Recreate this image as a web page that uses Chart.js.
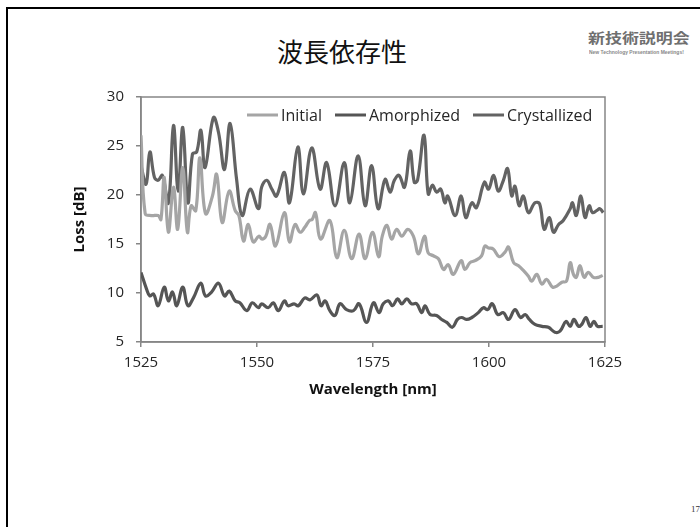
<!DOCTYPE html>
<html>
<head>
<meta charset="utf-8">
<script src="https://cdn.jsdelivr.net/npm/chart.js@4"></script>
<style>
  html, body { margin: 0; padding: 0; background: #fff; }
  body { width: 700px; height: 527px; position: relative; overflow: hidden; }
  #slide { position: absolute; left: 6px; top: 7px; width: 800px; height: 600px;
           border-left: 2px solid #000; border-top: 2px solid #000; }
  #title { position: absolute; left: 277px; top: 38px; font: 26px/1 "Noto Sans CJK JP", sans-serif; color: #111; white-space: nowrap; }
  #logo { position: absolute; left: 588px; top: 30px; font: bold 14px/1 "Noto Sans CJK JP", sans-serif; color: #6f6f6f;
          transform: scaleX(1.21); transform-origin: left top; white-space: nowrap; }
  #logo-sub { position: absolute; left: 589px; top: 50px; font: bold 9px/1 "Liberation Sans", sans-serif; color: #888;
              transform: scale(0.55, 0.5); transform-origin: left top; white-space: nowrap; }
  #page { position: absolute; left: 691px; top: 505px; font: 9px/1 "Liberation Serif", serif; color: #333; }
  #wrap { position: absolute; left: 0; top: 0; width: 700px; height: 527px; }
</style>
</head>
<body>
<div id="slide"></div>
<div id="title">波長依存性</div>
<div id="logo">新技術説明会</div>
<div id="logo-sub">New Technology Presentation Meetings!</div>
<div id="page">17</div>
<div id="wrap"><canvas id="lossChart" width="700" height="527"></canvas></div>

<script>
// --- Data ---
const seriesNames = ['Initial', 'Amorphized', 'Crystallized'];
const xTicks = [1525, 1550, 1575, 1600, 1625];
const yTicks = [5, 10, 15, 20, 25, 30];

const initialNm = [
    1525.0, 1525.9, 1527.3, 1528.7, 1529.3, 1530.0, 1530.9, 1532.0, 1532.9, 1534.0,
    1535.0, 1535.8, 1536.8, 1537.7, 1538.9, 1540.4, 1541.3, 1542.5, 1544.0, 1545.3,
    1546.1, 1547.1, 1548.1, 1549.2, 1550.4, 1551.1, 1551.9, 1552.8, 1554.0, 1555.9,
    1557.0, 1558.2, 1559.3, 1560.3, 1561.3, 1561.9, 1562.6, 1563.7, 1565.7, 1567.2,
    1568.8, 1570.4, 1572.0, 1573.3, 1574.9, 1576.2, 1577.0, 1578.0, 1579.0, 1580.1,
    1581.2, 1582.5, 1583.7, 1584.8, 1586.1, 1586.9, 1588.0, 1589.1, 1590.2, 1591.2,
    1592.3, 1594.0, 1594.8, 1595.9, 1597.0, 1598.4, 1599.1, 1599.9, 1600.9, 1602.2,
    1603.5, 1604.2, 1605.3, 1606.3, 1607.4, 1608.5, 1609.2, 1610.3, 1611.4, 1612.4,
    1613.7, 1614.6, 1615.7, 1616.7, 1617.5, 1618.2, 1618.8, 1619.6, 1620.5, 1621.4,
    1622.5, 1623.6, 1624.5
];
const initialLoss = [
    26.1, 18.1, 17.9, 17.9, 17.5, 21.8, 16.2, 20.8, 16.5, 22.8,
    16.2, 18.9, 18.4, 23.8, 18.1, 19.9, 22.1, 17.2, 20.4, 18.4,
    17.9, 15.3, 17.0, 15.2, 15.8, 15.5, 15.8, 17.0, 14.8, 18.2,
    15.2, 17.0, 16.2, 16.7, 17.4, 17.5, 18.2, 15.5, 17.4, 13.6,
    16.4, 13.5, 16.0, 13.5, 16.2, 13.7, 15.8, 16.9, 15.5, 16.5,
    15.8, 16.5, 15.8, 14.0, 15.8, 14.1, 13.8, 13.5, 12.4, 12.9,
    11.9, 13.3, 12.4, 13.1, 13.3, 13.8, 14.8, 14.6, 14.5, 13.7,
    14.2, 14.7, 13.1, 12.8, 12.3, 11.7, 11.2, 11.9, 10.9, 11.4,
    10.6, 10.7, 11.1, 11.2, 13.1, 11.9, 11.6, 12.8, 11.6, 12.1,
    11.6, 11.6, 11.8
];

const amorphizedNm = [
    1525.0, 1526.2, 1526.9, 1527.7, 1528.7, 1530.0, 1530.9, 1531.8, 1532.7, 1534.0,
    1535.1, 1536.3, 1537.9, 1538.9, 1540.2, 1541.7, 1543.0, 1544.0, 1545.3, 1546.3,
    1547.8, 1549.0, 1550.3, 1551.0, 1552.4, 1553.5, 1554.6, 1555.9, 1556.7, 1558.0,
    1558.9, 1560.3, 1561.4, 1562.9, 1563.8, 1564.7, 1565.7, 1566.8, 1567.9, 1569.3,
    1570.8, 1572.0, 1573.6, 1575.1, 1576.3, 1577.2, 1578.3, 1579.2, 1580.3, 1581.2,
    1582.3, 1583.3, 1584.4, 1585.5, 1586.2, 1587.3, 1588.7, 1589.8, 1590.9, 1592.1,
    1593.2, 1594.1, 1595.2, 1596.3, 1597.7, 1598.8, 1599.7, 1600.7, 1601.9, 1603.1,
    1604.2, 1605.6, 1606.8, 1607.8, 1608.7, 1609.9, 1611.4, 1612.8, 1614.2, 1615.3,
    1616.6, 1617.5, 1618.3, 1619.3, 1620.0, 1620.9, 1621.8, 1622.6, 1623.4, 1624.5
];
const amorphizedLoss = [
    12.1, 10.4, 9.7, 9.9, 8.7, 10.6, 9.2, 10.1, 8.7, 10.6,
    8.7, 9.5, 11.0, 9.7, 10.1, 11.0, 9.7, 10.2, 9.2, 9.0,
    8.2, 9.0, 8.5, 8.9, 8.5, 9.0, 8.2, 9.2, 8.7, 8.9,
    8.7, 9.5, 9.3, 9.8, 8.7, 9.2, 8.2, 7.7, 8.9, 8.3,
    8.2, 8.9, 7.0, 9.0, 8.0, 8.9, 9.2, 8.7, 9.4, 8.9,
    9.4, 8.9, 8.9, 8.0, 8.7, 7.8, 7.7, 7.3, 7.0, 6.5,
    7.3, 7.5, 7.3, 7.5, 8.0, 8.5, 8.3, 8.9, 7.8, 8.0,
    7.3, 8.3, 7.5, 7.8, 7.3, 6.8, 6.6, 6.5, 6.0, 6.1,
    7.1, 6.6, 7.3, 6.6, 6.8, 7.5, 6.6, 7.1, 6.6, 6.6
];

const crystallizedNm = [
    1525.0, 1526.1, 1526.9, 1527.9, 1528.7, 1529.6, 1530.9, 1532.0, 1533.0, 1534.0,
    1535.1, 1536.1, 1537.0, 1537.9, 1538.8, 1540.6, 1541.7, 1543.0, 1544.2, 1545.6,
    1546.8, 1548.5, 1550.3, 1551.0, 1552.1, 1553.2, 1554.2, 1555.9, 1557.0, 1558.8,
    1560.0, 1561.8, 1563.6, 1565.0, 1566.8, 1568.8, 1570.0, 1571.8, 1573.3, 1574.7,
    1576.1, 1577.6, 1578.7, 1579.6, 1580.6, 1581.8, 1583.0, 1583.9, 1584.6, 1586.0,
    1586.9, 1587.8, 1588.7, 1589.6, 1590.5, 1591.1, 1592.7, 1594.0, 1595.0, 1596.3,
    1597.3, 1599.0, 1599.9, 1601.0, 1602.0, 1603.1, 1604.0, 1604.9, 1605.6, 1606.5,
    1607.4, 1608.5, 1609.9, 1610.9, 1611.9, 1613.0, 1613.9, 1615.0, 1616.0, 1617.5,
    1618.0, 1618.8, 1619.8, 1620.7, 1621.6, 1622.3, 1623.2, 1623.9, 1624.6
];
const crystallizedLoss = [
    23.0, 21.1, 24.4, 21.8, 21.5, 22.0, 19.2, 27.1, 20.4, 26.9,
    19.2, 24.2, 24.4, 26.6, 22.8, 27.9, 26.4, 22.6, 27.3, 21.6,
    17.9, 20.6, 18.6, 20.8, 21.5, 20.6, 19.9, 22.3, 19.2, 24.9,
    20.1, 24.8, 20.6, 23.3, 18.9, 23.3, 19.2, 24.0, 18.9, 23.0,
    18.6, 21.6, 20.3, 21.5, 22.0, 20.8, 24.5, 21.3, 21.5, 26.1,
    20.1, 21.0, 20.3, 20.6, 19.2, 19.9, 17.9, 19.9, 17.7, 19.2,
    18.7, 21.3, 20.6, 22.0, 20.4, 21.5, 22.7, 19.9, 20.9, 18.9,
    19.9, 18.2, 19.2, 19.1, 16.5, 17.7, 16.2, 17.0, 17.4, 18.6,
    19.2, 17.9, 19.9, 17.7, 18.9, 18.2, 18.4, 18.6, 18.2
];

// --- Chart ---
const AXIS_GREY = '#868686';
const TEXT = '#262626';
const toPoints = (xs, ys) => xs.map((x, i) => ({ x, y: ys[i] }));

Chart.defaults.font.family = "'Open Sans', sans-serif";
Chart.defaults.color = TEXT;

// frame around the plot area (Excel-style box)
const plotFrame = {
    id: 'plotFrame',
    beforeDatasetsDraw(chart) {
        const { ctx, chartArea: a } = chart;
        ctx.save();
        ctx.strokeStyle = AXIS_GREY;
        ctx.lineWidth = 1.5;
        ctx.strokeRect(a.left, a.top, a.right - a.left, a.bottom - a.top);
        ctx.restore();
    }
};

// legend drawn inside the plot, along the top
const innerLegend = {
    id: 'innerLegend',
    afterDraw(chart) {
        const { ctx, chartArea: a } = chart;
        let x = a.left + 106;
        const y = a.top + 18;
        ctx.save();
        ctx.font = "16px 'Open Sans', sans-serif";
        ctx.textBaseline = 'middle';
        chart.data.datasets.forEach(ds => {
            ctx.strokeStyle = ds.borderColor;
            ctx.lineWidth = 3;
            ctx.beginPath();
            ctx.moveTo(x, y);
            ctx.lineTo(x + 31, y);
            ctx.stroke();
            ctx.fillStyle = TEXT;
            ctx.fillText(ds.label, x + 34, y + 1);
            x += 34 + ctx.measureText(ds.label).width + 13;
        });
        ctx.restore();
    }
};

const lineStyle = { borderWidth: 3.2, pointRadius: 0, tension: 0.4, fill: false };

new Chart(document.getElementById('lossChart'), {
    type: 'line',
    data: {
        datasets: [
            { label: seriesNames[0], data: toPoints(initialNm, initialLoss), borderColor: '#a5a5a5', ...lineStyle },
            { label: seriesNames[1], data: toPoints(amorphizedNm, amorphizedLoss), borderColor: '#555555', ...lineStyle },
            { label: seriesNames[2], data: toPoints(crystallizedNm, crystallizedLoss), borderColor: '#636363', ...lineStyle }
        ]
    },
    options: {
        responsive: false,
        devicePixelRatio: 1,
        animation: false,
        layout: { padding: { left: 60, top: 97, right: 95, bottom: 125 } },
        plugins: { legend: { display: false }, tooltip: { enabled: false } },
        scales: {
            x: {
                type: 'linear', min: 1525, max: 1625,
                afterBuildTicks: s => { s.ticks = xTicks.map(v => ({ value: v })); },
                afterFit: s => { s.height = 60; },
                ticks: { font: { size: 15 }, color: TEXT, padding: 7, maxRotation: 0, callback: v => String(v) },
                grid: { drawOnChartArea: false, drawTicks: true, tickLength: 5, color: AXIS_GREY, lineWidth: 1.5 },
                border: { color: AXIS_GREY, width: 1.5 },
                title: { display: true, text: 'Wavelength [nm]', font: { size: 15, weight: 'bold' }, color: '#111', padding: { top: 0, bottom: 3 } }
            },
            y: {
                type: 'linear', min: 5, max: 30,
                afterBuildTicks: s => { s.ticks = yTicks.map(v => ({ value: v })); },
                afterFit: s => { s.width = 81; },
                ticks: { font: { size: 15 }, color: TEXT, padding: 12, callback: v => String(v) },
                grid: { drawOnChartArea: false, drawTicks: true, tickLength: 5, color: AXIS_GREY, lineWidth: 1.5 },
                border: { color: AXIS_GREY, width: 1.5 },
                title: { display: true, text: 'Loss [dB]', font: { size: 15, weight: 'bold' }, color: '#111', padding: { top: 11, bottom: 0 } }
            }
        }
    },
    plugins: [plotFrame, innerLegend]
});
</script>
</body>
</html>
